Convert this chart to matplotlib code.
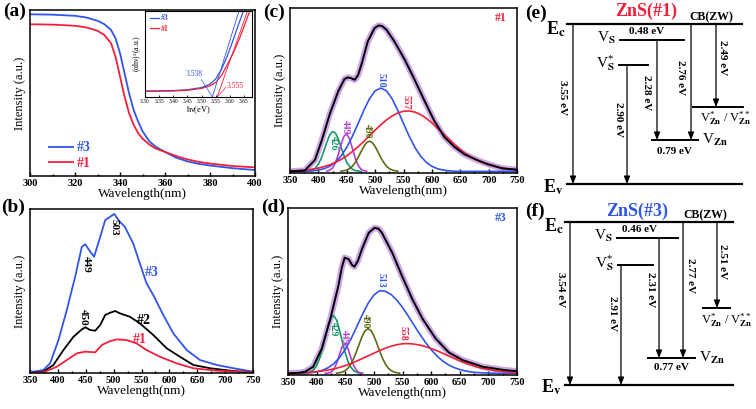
import matplotlib
matplotlib.use('Agg')
import matplotlib.pyplot as plt
from matplotlib.ticker import MultipleLocator

plt.rcParams['font.family'] = ['Liberation Serif', 'DejaVu Serif']
plt.rcParams['font.weight'] = 'bold'
plt.rcParams['mathtext.fontset'] = 'stix'
plt.rcParams['mathtext.default'] = 'regular'
plt.rcParams['axes.linewidth'] = 1.1

BLUE = '#2f55ea'
RED = '#f21f3a'
GREEN = '#17976a'
PURPLE = '#b33fd0'
OLIVE = '#5f6a12'
DOTS = '#c99ee6'

# ---------------- (a) absorption ----------------
abs_wl = [300, 310, 320, 325, 330, 333, 336, 338, 340, 342, 344, 346, 348, 350,
          353, 356, 360, 365, 370, 375, 380, 390, 400]
abs_3 = [0.974, 0.972, 0.965, 0.955, 0.935, 0.915, 0.88, 0.83, 0.74, 0.62, 0.50,
         0.40, 0.33, 0.27, 0.21, 0.175, 0.145, 0.11, 0.088, 0.073, 0.063, 0.047, 0.036]
abs_1 = [0.914, 0.912, 0.905, 0.895, 0.875, 0.85, 0.80, 0.72, 0.60, 0.48, 0.38,
         0.31, 0.26, 0.225, 0.19, 0.165, 0.145, 0.12, 0.10, 0.085, 0.075, 0.06, 0.052]

# inset: (ahv)^2 vs hv
hv_3 = [3.30, 3.40, 3.45, 3.50, 3.53, 3.55, 3.57, 3.59, 3.61, 3.63, 3.65]
tauc_3 = [0.07, 0.075, 0.085, 0.11, 0.15, 0.21, 0.32, 0.47, 0.65, 0.84, 1.02]
hv_1 = [3.30, 3.40, 3.45, 3.50, 3.53, 3.55, 3.57, 3.59, 3.61, 3.63, 3.65, 3.67]
tauc_1 = [0.065, 0.07, 0.078, 0.10, 0.13, 0.17, 0.25, 0.37, 0.50, 0.65, 0.82, 1.0]
eg_3 = 3.538
eg_1 = 3.555

# ---------------- (b) PL spectra ----------------
pl3_wl = [350, 374, 386, 401, 416, 431, 443, 449, 458, 465, 476, 485, 494, 501, 511,
          520, 535, 547, 559, 571, 589, 607, 631, 655, 685, 715, 750]
pl3 = [0.005, 0.018, 0.059, 0.20, 0.384, 0.587, 0.77, 0.785, 0.74, 0.709, 0.831, 0.933,
       0.953, 0.97, 0.923, 0.892, 0.791, 0.669, 0.547, 0.476, 0.354, 0.242, 0.14, 0.079,
       0.049, 0.029, 0.008]
pl2_wl = [350, 374, 392, 410, 428, 443, 449, 458, 467, 476, 485, 494, 503, 511, 529,
          547, 571, 595, 619, 643, 673, 715, 750]
pl2 = [0.0, 0.008, 0.049, 0.14, 0.221, 0.266, 0.279, 0.262, 0.258, 0.293, 0.354, 0.368,
       0.378, 0.364, 0.343, 0.303, 0.232, 0.151, 0.099, 0.049, 0.029, 0.012, 0.004]
pl1_wl = [350, 374, 398, 416, 434, 449, 467, 479, 494, 506, 523, 541, 559, 583, 613,
          643, 685, 750]
pl1 = [0.0, 0.004, 0.038, 0.079, 0.12, 0.13, 0.126, 0.171, 0.195, 0.205, 0.201, 0.181,
       0.14, 0.099, 0.059, 0.029, 0.014, 0.004]

# ---------------- (c) fit of #1 ----------------
grid = list(range(350, 760, 10))
c_sum_wl = [350, 376, 394, 406, 420, 435, 446, 452, 458, 464, 470, 476, 487, 499, 506,
            512, 520, 534, 552, 569, 587, 604, 622, 640, 657, 680, 698, 724, 750]
c_sum = [0.0, 0.005, 0.07, 0.19, 0.35, 0.49, 0.565, 0.575, 0.57, 0.56, 0.59, 0.655,
         0.795, 0.877, 0.893, 0.89, 0.867, 0.795, 0.685, 0.565, 0.432, 0.311, 0.21,
         0.149, 0.105, 0.069, 0.045, 0.018, 0.01]
c426_wl = list(range(380, 480, 5))
c426 = [0.001, 0.003, 0.009, 0.021, 0.044, 0.08, 0.127, 0.18, 0.223, 0.244, 0.235,
        0.199, 0.149, 0.098, 0.056, 0.029, 0.013, 0.005, 0.002, 0.0]
c449_wl = list(range(415, 490, 5))
c449 = [0.002, 0.007, 0.021, 0.052, 0.102, 0.164, 0.215, 0.23, 0.198, 0.14, 0.08,
        0.037, 0.014, 0.004, 0.001]
c490_wl = list(range(440, 545, 5))
c490 = [0.001, 0.004, 0.008, 0.017, 0.032, 0.055, 0.085, 0.119, 0.152, 0.176, 0.185,
        0.176, 0.152, 0.119, 0.085, 0.055, 0.032, 0.017, 0.008, 0.004, 0.001]
c510 = [0, 0, 0.001, 0.001, 0.003, 0.008, 0.016, 0.031, 0.056, 0.094, 0.147, 0.215,
        0.293, 0.373, 0.444, 0.493, 0.51, 0.493, 0.444, 0.373, 0.293, 0.215, 0.147,
        0.094, 0.056, 0.031, 0.016, 0.008, 0.003, 0.001, 0, 0, 0, 0, 0, 0, 0, 0, 0, 0, 0]
c557 = [0.002, 0.004, 0.006, 0.009, 0.014, 0.02, 0.029, 0.04, 0.055, 0.073, 0.095,
        0.122, 0.151, 0.183, 0.218, 0.252, 0.285, 0.315, 0.339, 0.358, 0.368, 0.37,
        0.363, 0.348, 0.325, 0.297, 0.265, 0.231, 0.197, 0.164, 0.133, 0.107, 0.085,
        0.067, 0.052, 0.04, 0.031, 0.024, 0.018, 0.014, 0.011]

# ---------------- (d) fit of #3 ----------------
d_sum_wl = [350, 370, 380, 394, 409, 424, 438, 444, 449, 456, 462, 466, 472, 479, 491,
            501, 508, 514, 532, 549, 567, 585, 608, 631, 655, 690, 728, 750]
d_sum = [0.0, 0.004, 0.01, 0.04, 0.15, 0.33, 0.53, 0.64, 0.70, 0.69, 0.655, 0.645, 0.68,
         0.75, 0.85, 0.88, 0.875, 0.85, 0.73, 0.59, 0.45, 0.33, 0.21, 0.126, 0.08, 0.04,
         0.02, 0.013]
d429_wl = list(range(380, 485, 5))
d429 = [0.001, 0.004, 0.009, 0.022, 0.047, 0.089, 0.148, 0.22, 0.289, 0.337, 0.349,
        0.321, 0.262, 0.19, 0.123, 0.07, 0.036, 0.016, 0.006, 0.002, 0.001]
d449_wl = list(range(415, 485, 5))
d449 = [0.0, 0.002, 0.007, 0.024, 0.061, 0.115, 0.165, 0.179, 0.147, 0.092, 0.044,
        0.016, 0.004, 0.001]
d490_wl = list(range(435, 550, 5))
d490 = [0.001, 0.004, 0.008, 0.017, 0.032, 0.057, 0.092, 0.135, 0.183, 0.227, 0.259,
        0.27, 0.259, 0.227, 0.183, 0.135, 0.092, 0.057, 0.032, 0.017, 0.008, 0.004, 0.001]
d513 = [0, 0, 0.001, 0.002, 0.004, 0.009, 0.018, 0.034, 0.058, 0.095, 0.145, 0.208,
        0.281, 0.356, 0.424, 0.474, 0.5, 0.496, 0.477, 0.443, 0.399, 0.347, 0.292,
        0.238, 0.188, 0.143, 0.106, 0.075, 0.052, 0.035, 0.023, 0.014, 0.008, 0.005,
        0.003, 0.002, 0.001, 0, 0, 0, 0]
d558 = [0.001, 0.002, 0.003, 0.005, 0.007, 0.01, 0.015, 0.02, 0.027, 0.036, 0.047,
        0.06, 0.074, 0.09, 0.106, 0.122, 0.138, 0.152, 0.164, 0.173, 0.179, 0.18,
        0.177, 0.171, 0.162, 0.15, 0.137, 0.122, 0.106, 0.091, 0.076, 0.062, 0.05,
        0.039, 0.03, 0.023, 0.017, 0.012, 0.009, 0.006, 0.004]

# ---------------- (e)/(f) energy schemes ----------------
e_texts = ['3.55 eV', '2.90 eV', '2.28 eV', '2.76 eV', '2.49 eV', '0.48 eV', '0.79 eV']
f_texts = ['3.54 eV', '2.91 eV', '2.31 eV', '2.77 eV', '2.51 eV', '0.46 eV', '0.77 eV']


W, H = 756, 409
fig = plt.figure(figsize=(W / 100, H / 100), dpi=100)


def px_axes(x0, y0, x1, y1):
    return fig.add_axes([x0 / W, 1 - y1 / H, (x1 - x0) / W, (y1 - y0) / H])


def style(ax, xlim, major, minor, ylim):
    ax.set_xlim(*xlim)
    ax.set_ylim(*ylim)
    ax.xaxis.set_major_locator(MultipleLocator(major))
    ax.xaxis.set_minor_locator(MultipleLocator(minor))
    ax.tick_params(axis='x', which='both', direction='in', labelsize=7.5, pad=2, width=1)
    ax.tick_params(axis='x', which='major', length=3)
    ax.tick_params(axis='x', which='minor', length=1.6)
    ax.set_yticks([])
    ax.set_xlabel('Wavelength(nm)', fontsize=9.5, labelpad=0)
    ax.set_ylabel('Intensity (a.u.)', fontsize=9, labelpad=3)


# (a)
ax_a = px_axes(30, 10, 255, 176)
ax_a.plot(abs_wl, abs_3, color=BLUE, lw=1.3, label='#3')
ax_a.plot(abs_wl, abs_1, color=RED, lw=1.3, label='#1')
style(ax_a, (300, 400), 20, 10, (0, 1))
ax_a.legend(loc='lower left', bbox_to_anchor=(0.03, -0.04), frameon=False, fontsize=10,
            labelcolor='linecolor', handlelength=1.7, handletextpad=0.3, labelspacing=0.2)

ax_in = px_axes(145, 11, 252, 97)
ax_in.plot(hv_3, tauc_3, color=BLUE, lw=0.9, label='#3')
ax_in.plot(hv_1, tauc_1, color=RED, lw=0.9, label='#1')
ax_in.plot([eg_3, 3.632], [0.0, 1.0], color=BLUE, lw=0.6)
ax_in.plot([eg_1, 3.662], [0.0, 1.0], color=RED, lw=0.6)
ax_in.plot([3.50, eg_3], [0.2, 0.0], color=BLUE, lw=0.5)
ax_in.plot([3.585, eg_1], [0.11, 0.0], color=RED, lw=0.5)
ax_in.text(3.475, 0.22, f'{eg_3:.3f}', color=BLUE, fontsize=5.5, fontweight='normal',
           ha='center', va='bottom')
ax_in.text(3.62, 0.13, f'{eg_1:.3f}', color=RED, fontsize=5.5, fontweight='normal',
           ha='center', va='center')
ax_in.set_xlim(3.30, 3.678)
ax_in.set_ylim(0, 1)
ax_in.xaxis.set_major_locator(MultipleLocator(0.05))
ax_in.tick_params(axis='x', direction='in', labelsize=4, pad=1.5, length=1.5, width=0.6)
ax_in.set_yticks([])
for lab in ax_in.get_xticklabels():
    lab.set_fontweight('normal')
ax_in.set_xlabel(r'h$\nu$(eV)', fontsize=6, labelpad=0)
ax_in.set_ylabel(r'($\alpha$h$\nu$)$^2$(a.u.)', fontsize=5.5, labelpad=1)
for s in ax_in.spines.values():
    s.set_linewidth(0.8)
ax_in.legend(loc='upper left', bbox_to_anchor=(-0.02, 1.04), frameon=False, fontsize=5.5,
             labelcolor='linecolor', handlelength=1.2, handletextpad=0.2, labelspacing=0.3)

# (b)
ax_b = px_axes(30, 209, 253, 373)
ax_b.plot(pl3_wl, pl3, color=BLUE, lw=1.3)
ax_b.plot(pl2_wl, pl2, color='black', lw=1.3)
ax_b.plot(pl1_wl, pl1, color=RED, lw=1.3)
style(ax_b, (350, 750), 50, 25, (0, 1))
ax_b.text(451, 0.66, '449', rotation=-90, fontsize=8, ha='center', va='center')
ax_b.text(500, 0.89, '503', rotation=-90, fontsize=8, ha='center', va='center')
ax_b.text(446, 0.34, '450', rotation=-90, fontsize=8, ha='center', va='center')
ax_b.text(568, 0.61, '#3', color=BLUE, fontsize=10, ha='center', va='center')
ax_b.text(555, 0.32, '#2', color='black', fontsize=10, ha='center', va='center')
ax_b.text(546, 0.205, '#1', color=RED, fontsize=10, ha='center', va='center')


def fit_panel(ax, sumwl, sumv, comps, labels, tag, tagcolor):
    ax.plot(sumwl, sumv, color=DOTS, lw=4.5, alpha=0.9, solid_capstyle='round')
    for wl, v, col in comps:
        ax.plot(wl, v, color=col, lw=1.2)
    ax.plot(sumwl, sumv, color='black', lw=1.4)
    for x, y, t, col in labels:
        ax.text(x, y, t, rotation=-90, color=col, fontsize=7, ha='center', va='center')
    ax.text(0.93, 0.94, tag, color=tagcolor, fontsize=8.5, ha='center', va='center',
            transform=ax.transAxes)
    style(ax, (350, 750), 50, 25, (-0.01, 1.0))


ax_c = px_axes(290, 8, 517, 173)
fit_panel(ax_c, c_sum_wl, c_sum,
          [(c426_wl, c426, GREEN), (c449_wl, c449, PURPLE), (c490_wl, c490, OLIVE),
           (grid, c510, BLUE), (grid, c557, RED)],
          [(426, 0.17, '426', GREEN), (447, 0.27, '449', PURPLE), (487, 0.245, '490', OLIVE),
           (510, 0.56, '510', BLUE), (555, 0.42, '557', RED)],
          '#1', RED)

ax_d = px_axes(288, 208, 517, 375)
fit_panel(ax_d, d_sum_wl, d_sum,
          [(d429_wl, d429, GREEN), (d449_wl, d449, PURPLE), (d490_wl, d490, OLIVE),
           (grid, d513, BLUE), (grid, d558, RED)],
          [(430, 0.27, '429', GREEN), (448, 0.22, '449', PURPLE), (486, 0.315, '490', OLIVE),
           (513, 0.56, '513', BLUE), (551, 0.24, '558', RED)],
          '#3', BLUE)


def arrow(ax, x, y0, y1):
    ax.annotate('', xy=(x, y1), xytext=(x, y0),
                arrowprops=dict(arrowstyle='-|>,head_length=0.45,head_width=0.18',
                                color='black', lw=0.9, shrinkA=0, shrinkB=0))


def scheme(ax, g, texts, title, tcolor):
    ax.set_xlim(0, 256)
    ax.set_ylim(g['h'], 0)
    ax.axis('off')
    ec, ev = g['ec'], g['ev']
    ax.plot([g['x0'], g['x1']], [ec, ec], color='black', lw=1.6)
    ax.plot([g['x0'], g['x1']], [ev, ev], color='black', lw=1.6)
    for key in ('vs', 'vs1', 'vzn', 'vzn1'):
        y, xa, xb = g[key]
        ax.plot([xa, xb], [y, y], color='black', lw=1.4)
    # transitions
    arrow(ax, g['a'][0], ec, ev)
    arrow(ax, g['a'][1], g['vs1'][0], ev)
    arrow(ax, g['a'][2], g['vs'][0], g['vzn'][0])
    arrow(ax, g['a'][3], ec, g['vzn'][0])
    arrow(ax, g['a'][4], ec, g['vzn1'][0])
    for (x, y), t in zip(g['lab'], texts[:5]):
        ax.text(x, y, t, rotation=-90, fontsize=8, ha='center', va='center')
    ax.text(*g['t_vs'], texts[5], fontsize=8, ha='center', va='center')
    ax.text(*g['t_vzn'], texts[6], fontsize=8, ha='center', va='center')
    ax.text(*g['title'], title, color=tcolor, fontsize=13, ha='center', va='center')
    ax.text(*g['cb'], 'CB(ZW)', fontsize=8.5, ha='center', va='center')
    ax.text(*g['Ec'], r'E$_{\rm c}$', fontsize=13, ha='center', va='center')
    ax.text(*g['Ev'], r'E$_{\rm v}$', fontsize=13, ha='center', va='center')
    ax.text(g['vs'][1] - 4, g['vs'][0] - 2, r'V$_{\rm S}$', fontsize=11,
            fontweight='normal', ha='right', va='center')
    ax.text(g['vs1'][1] - 4, g['vs1'][0] - 2, r'V$_{\rm S}^{*}$', fontsize=11,
            fontweight='normal', ha='right', va='center')
    ax.text(g['vzn'][2] + 4, g['vzn'][0], r'V$_{\rm Zn}$', fontsize=11,
            fontweight='normal', ha='left', va='center')
    ax.text(*g['t_vzn1'], r'V$_{\rm Zn}^{*}$ / V$_{\rm Zn}^{**}$',
            fontsize=9, fontweight='normal', ha='center', va='center')


geo_e = dict(h=205, ec=24, ev=184, x0=67, x1=242,
             vs=(40, 120, 184), vs1=(65, 119, 148), vzn=(140, 152, 198),
             vzn1=(107, 193, 243), a=(73, 127, 157, 191, 216),
             lab=[(63, 97), (118, 120), (147, 93), (180, 77), (222, 58)],
             t_vs=(147, 32), t_vzn=(174, 151), t_vzn1=(226, 119),
             title=(146, 11), cb=(211, 17), Ec=(56, 29), Ev=(53, 187))
geo_f = dict(h=204, ec=17, ev=180, x0=65, x1=233,
             vs=(33, 117, 178), vs1=(60, 118, 153), vzn=(153, 148, 195),
             vzn1=(103, 203, 230), a=(70, 121, 159, 183, 217),
             lab=[(60, 85), (112, 108), (150, 85), (191, 70), (223, 57)],
             t_vs=(140, 25), t_vzn=(171, 163), t_vzn1=(227, 116),
             title=(137, 6), cb=(205, 10), Ec=(54, 21), Ev=(51, 182))

ax_e = px_axes(500, 0, 756, 205)
scheme(ax_e, geo_e, e_texts, 'ZnS(#1)', RED)
ax_f = px_axes(500, 205, 756, 409)
scheme(ax_f, geo_f, f_texts, 'ZnS(#3)', BLUE)

# panel letters
for x, y, t in [(15, 11, '(a)'), (13, 207, '(b)'), (274, 12, '(c)'), (273, 207, '(d)'),
                (536, 13, '(e)'), (535, 211, '(f)')]:
    fig.text(x / W, 1 - y / H, t, fontsize=14, ha='center', va='center')

fig.savefig('out.png', dpi=100)
